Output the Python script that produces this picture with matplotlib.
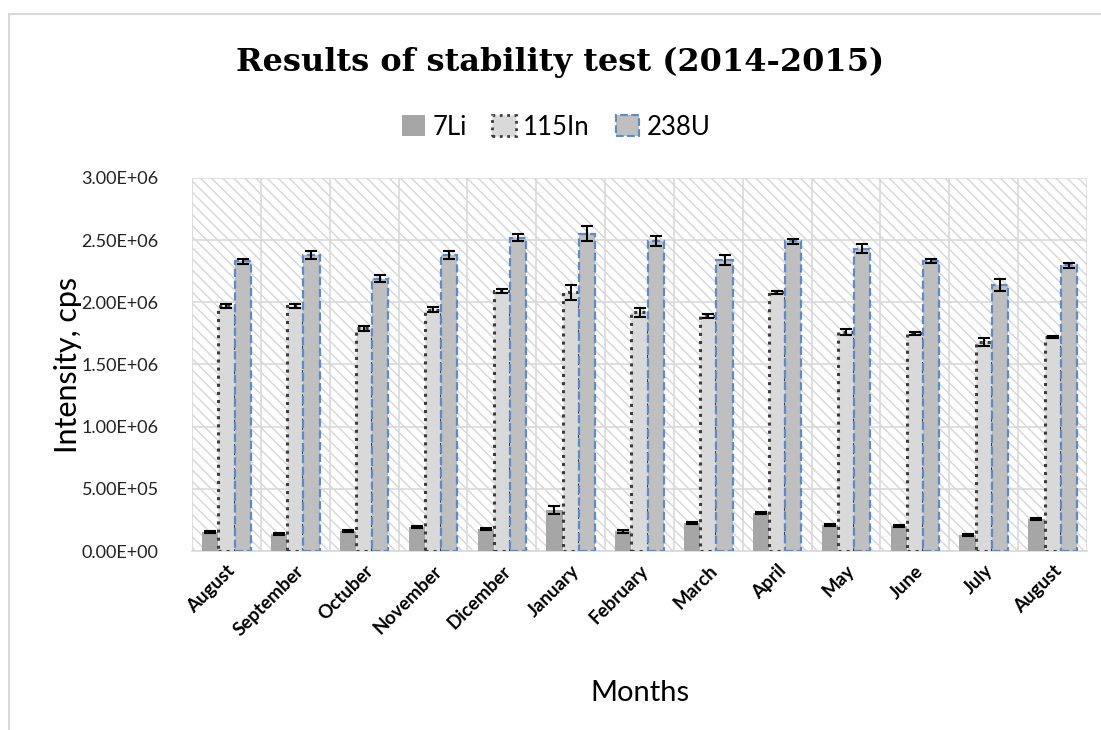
import numpy as np
import matplotlib
matplotlib.use("Agg")
import matplotlib.pyplot as plt
from matplotlib.patches import Rectangle, Patch
from matplotlib.ticker import FuncFormatter, FixedLocator

# data
months = ["August", "September", "Octuber", "November", "Dicember", "January",
          "February", "March", "April", "May", "June", "July", "August"]
li7 = [1.5e5, 1.35e5, 1.6e5, 1.9e5, 1.75e5, 3.3e5, 1.6e5, 2.25e5, 3.05e5, 2.1e5, 2.0e5, 1.3e5, 2.55e5]
in115 = [1.97e6, 1.97e6, 1.79e6, 1.94e6, 2.09e6, 2.08e6, 1.92e6, 1.89e6, 2.08e6, 1.76e6, 1.75e6, 1.68e6, 1.72e6]
u238 = [2.33e6, 2.38e6, 2.19e6, 2.38e6, 2.52e6, 2.55e6, 2.49e6, 2.34e6, 2.49e6, 2.43e6, 2.33e6, 2.14e6, 2.30e6]
li7_err = [8e3, 6e3, 8e3, 8e3, 8e3, 3e4, 1.2e4, 8e3, 6e3, 1e4, 6e3, 8e3, 8e3]
in115_err = [1.5e4, 1.5e4, 2e4, 2e4, 1.5e4, 6e4, 3.5e4, 1.5e4, 1e4, 2.5e4, 1e4, 3.5e4, 1e4]
u238_err = [2e4, 3e4, 3e4, 3.5e4, 3e4, 6e4, 4e4, 4e4, 2e4, 3.5e4, 1.5e4, 5e4, 2e4]

plt.rcParams['font.family'] = ['Lato', 'DejaVu Sans']
plt.rcParams['hatch.color'] = '#d6d6d6'
plt.rcParams['hatch.linewidth'] = 1.0

fig = plt.figure(figsize=(11.01, 7.30), dpi=100, facecolor='w')
ax = fig.add_axes([0.1744, 0.2452, 0.8129, 0.5110])

# outer chart frame (light gray)
fig.add_artist(Rectangle((9/1101, -0.05), 1.2, 1 - 14/730 + 0.05, transform=fig.transFigure,
                         fill=False, edgecolor='#d9d9d9', lw=1.5))

# hatched plot area
ax.add_patch(Rectangle((0, 0), 1, 1, transform=ax.transAxes, facecolor='white',
                       edgecolor='#d6d6d6', hatch='\\\\\\', lw=0, zorder=0))

x = np.arange(len(months))
w = 0.235
ekw = dict(ecolor='black', elinewidth=1.5, capsize=4, capthick=1.5)
ax.bar(x - w, li7, w, color='#a6a6a6', yerr=li7_err, error_kw=ekw, zorder=3)
ax.bar(x, in115, w, color='#d9d9d9', edgecolor='#3c3c3c', linestyle=':', linewidth=2.2,
       yerr=in115_err, error_kw=ekw, zorder=3)
ax.bar(x + w, u238, w, color='#bfbfbf', edgecolor='#5b8bcf', linestyle='--', linewidth=1.6,
       yerr=u238_err, error_kw=ekw, zorder=3)

ax.set_xlim(-0.5, len(months) - 0.5)
ax.set_ylim(0, 3.0e6)
ax.set_yticks(np.arange(0, 3.01e6, 0.5e6))
ax.yaxis.set_major_formatter(FuncFormatter(lambda v, p: f"{v:.2E}"))
ax.set_xticks(x)
ax.set_xticklabels(months, rotation=45, ha='right', rotation_mode='anchor',
                   fontweight='bold', fontsize=13.5)
ax.xaxis.set_minor_locator(FixedLocator(np.arange(-0.5, len(months), 1.0)))
ax.tick_params(axis='y', labelsize=13, length=0, pad=24)
ax.tick_params(axis='x', which='both', length=0, pad=8)
for lbl in ax.get_yticklabels():
    lbl.set_color('#222222')

ax.set_axisbelow(True)
ax.grid(axis='y', which='major', color='#d9d9d9', lw=1.2, zorder=1)
ax.grid(axis='x', which='minor', color='#d9d9d9', lw=1.2, zorder=1)
for s in ('top', 'right', 'left'):
    ax.spines[s].set_visible(False)
ax.spines['bottom'].set_color('#d9d9d9')
ax.spines['bottom'].set_linewidth(1.2)

ax.set_ylabel('Intensity, cps', fontsize=22, labelpad=0)
ax.set_xlabel('Months', fontsize=21, labelpad=30)

fig.text(0.509, 0.915, 'Results of stability test (2014-2015)', ha='center', va='center',
         fontsize=23, fontweight='bold', family='DejaVu Serif')

handles = [Patch(facecolor='#a6a6a6', label='7Li'),
           Patch(facecolor='#d9d9d9', edgecolor='#3c3c3c', linestyle=':', linewidth=2, label='115In'),
           Patch(facecolor='#bfbfbf', edgecolor='#5b8bcf', linestyle='--', linewidth=1.5, label='238U')]
fig.legend(handles=handles, loc='center', bbox_to_anchor=(0.505, 0.826), ncol=3, frameon=False,
           fontsize=18.5, handlelength=0.9, handleheight=0.9, handletextpad=0.3, columnspacing=1.0)

fig.savefig('out.png', dpi=100)
